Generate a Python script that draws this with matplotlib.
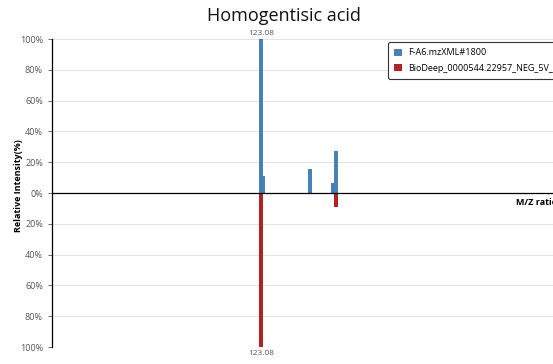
import matplotlib.pyplot as plt
from matplotlib.ticker import FuncFormatter

plt.rcParams['font.family'] = ['Open Sans', 'DejaVu Sans']

# query spectrum (top, positive) and reference spectrum (bottom, mirrored)
query_mz = [123.08, 124.08, 151.8, 165.4, 167.03]
query_int = [100, 11, 15.4, 6.3, 27]
ref_mz = [123.08, 167.03]
ref_int = [100, 9]

query_name = "F-A6.mzXML#1800"
ref_name = "BioDeep_0000544.22957_NEG_5V_[M-H]-"
title = "Homogentisic acid"

blue = "#4682b4"
red = "#b22222"

fig = plt.figure(figsize=(5.53, 3.64), dpi=100)
ax = fig.add_axes([0.094, 0.0467, 0.922, 0.846])

ax.bar(query_mz, query_int, width=2.35, color=blue, label=query_name, zorder=3)
ax.bar(ref_mz, [-v for v in ref_int], width=2.35, color=red, label=ref_name, zorder=3)

ax.set_xlim(0, 300)
ax.set_ylim(-100, 100)
ax.set_yticks(range(-100, 101, 20))
ax.yaxis.set_major_formatter(FuncFormatter(lambda v, p: f"{abs(int(v))}%"))
ax.tick_params(axis='y', labelsize=6.5, labelcolor="#555555", length=3, width=0.6, color="#555555")
ax.set_xticks([])
ax.grid(axis='y', color="#e3e3e3", linewidth=0.8, zorder=0)
ax.axhline(0, color="black", linewidth=0.9, zorder=4)

for s in ['top', 'right', 'bottom']:
    ax.spines[s].set_visible(False)
ax.spines['left'].set_linewidth(0.9)

# label the base peak on both sides
top_i = query_int.index(max(query_int))
ax.text(query_mz[top_i], max(query_int) + 1.5, f"{query_mz[top_i]:.2f}", ha='center', va='bottom',
        fontsize=6, color="#555555")
bot_i = ref_int.index(max(ref_int))
ax.text(ref_mz[bot_i], -max(ref_int) - 2, f"{ref_mz[bot_i]:.2f}", ha='center', va='top',
        fontsize=6, color="#555555")

ax.text(273, -3, "M/Z ratio", ha='left', va='top', fontsize=6.5, fontweight='bold')
fig.text(0.033, 0.49, "Relative Intensity(%)", rotation=90, ha='center', va='center',
         fontsize=6.5, fontweight='bold')
fig.text(0.513, 0.957, title, ha='center', va='center', fontsize=13, color="#111111")

leg = ax.legend(loc='upper left', bbox_to_anchor=(0.659, 0.99), borderaxespad=0, fontsize=6.5,
                frameon=True, fancybox=True, edgecolor="#333333", handlelength=0.9, handleheight=0.9,
                borderpad=0.7, labelspacing=0.7, handletextpad=0.6)
leg.get_frame().set_linewidth(0.8)
leg.get_frame().set_alpha(1)

fig.savefig("out.png", dpi=100, facecolor="white")
